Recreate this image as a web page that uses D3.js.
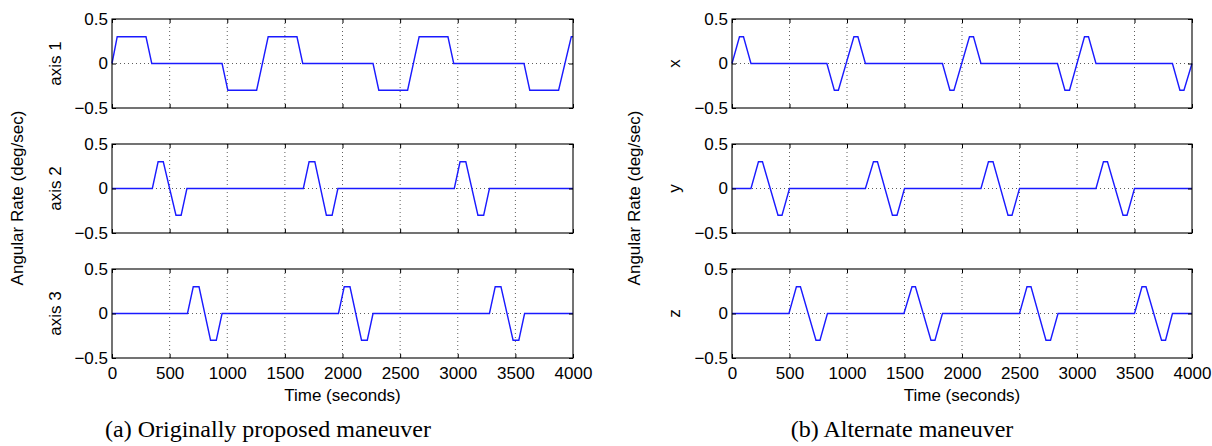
<!DOCTYPE html>
<html><head><meta charset="utf-8">
<script src="https://cdn.jsdelivr.net/npm/d3@7"></script>
<style>body{margin:0;background:#fff}svg{display:block}</style>
</head><body><svg id="c" width="1212" height="446"></svg>
<script>
// ---- data ----
const timeTicks = [0, 500, 1000, 1500, 2000, 2500, 3000, 3500, 4000];
const rateTicks = [-0.5, 0, 0.5];

// (a) originally proposed maneuver
const axis1T = [0, 45, 295, 345, 955, 1005, 1255, 1355, 1605, 1655, 2265, 2315, 2565, 2665, 2915, 2965, 3575, 3625, 3875, 3985, 4000];
const axis1V = [0, 0.3, 0.3, 0, 0, -0.3, -0.3, 0.3, 0.3, 0, 0, -0.3, -0.3, 0.3, 0.3, 0, 0, -0.3, -0.3, 0.3, 0.3];
const axis2T = [0, 350, 400, 445, 555, 600, 650, 1660, 1710, 1760, 1860, 1910, 1960, 2970, 3020, 3070, 3175, 3225, 3275, 4000];
const axis2V = [0, 0, 0.3, 0.3, -0.3, -0.3, 0, 0, 0.3, 0.3, -0.3, -0.3, 0, 0, 0.3, 0.3, -0.3, -0.3, 0, 0];
const axis3T = [0, 655, 705, 755, 855, 905, 955, 1965, 2015, 2065, 2165, 2215, 2265, 3275, 3325, 3375, 3480, 3530, 3580, 4000];
const axis3V = [0, 0, 0.3, 0.3, -0.3, -0.3, 0, 0, 0.3, 0.3, -0.3, -0.3, 0, 0, 0.3, 0.3, -0.3, -0.3, 0, 0];

// (b) alternate maneuver
const xT = [0, 65, 100, 165, 825, 890, 925, 1060, 1095, 1160, 1830, 1895, 1930, 2065, 2100, 2165, 2830, 2895, 2935, 3065, 3100, 3165, 3830, 3895, 3930, 4000];
const xV = [0, 0.3, 0.3, 0, 0, -0.3, -0.3, 0.3, 0.3, 0, 0, -0.3, -0.3, 0.3, 0.3, 0, 0, -0.3, -0.3, 0.3, 0.3, 0, 0, -0.3, -0.3, 0];
const yT = [0, 165, 230, 265, 400, 435, 500, 1160, 1230, 1265, 1395, 1435, 1500, 2165, 2230, 2270, 2400, 2435, 2500, 3165, 3230, 3265, 3400, 3435, 3500, 4000];
const yV = [0, 0, 0.3, 0.3, -0.3, -0.3, 0, 0, 0.3, 0.3, -0.3, -0.3, 0, 0, 0.3, 0.3, -0.3, -0.3, 0, 0, 0.3, 0.3, -0.3, -0.3, 0, 0];
const zT = [0, 495, 560, 595, 730, 765, 830, 1495, 1565, 1595, 1730, 1765, 1830, 2500, 2565, 2600, 2730, 2770, 2835, 3500, 3565, 3600, 3735, 3770, 3830, 4000];
const zV = [0, 0, 0.3, 0.3, -0.3, -0.3, 0, 0, 0.3, 0.3, -0.3, -0.3, 0, 0, 0.3, 0.3, -0.3, -0.3, 0, 0, 0.3, 0.3, -0.3, -0.3, 0, 0];

const labelsA = ["axis 1", "axis 2", "axis 3"];
const labelsB = ["x", "y", "z"];
const yTitle = "Angular Rate (deg/sec)";
const xTitle = "Time (seconds)";
const captionA = "(a) Originally proposed maneuver";
const captionB = "(b) Alternate maneuver";

// ---- drawing ----
const svg = d3.select("#c");
const sans = "'Liberation Sans', Arial, Helvetica, sans-serif";
const serif = "'Liberation Serif', 'Times New Roman', serif";
const fs = 17;
const rowTops = [19, 144, 269], rowH = 89;

const groups = [
  {x0: 112, x1: 573, labelX: 61, titleX: 22.5, labels: labelsA,
   series: [[axis1T, axis1V], [axis2T, axis2V], [axis3T, axis3V]],
   caption: captionA, capX: 268},
  {x0: 732, x1: 1192, labelX: 680, titleX: 639.5, labels: labelsB,
   series: [[xT, xV], [yT, yV], [zT, zV]],
   caption: captionB, capX: 902}
];

const fmtY = d => d === 0 ? "0" : d3.format(".1f")(d);

groups.forEach(g => {
  const x = d3.scaleLinear().domain([0, 4000]).range([g.x0, g.x1]);
  g.series.forEach((s, i) => {
    const top = rowTops[i];
    const y = d3.scaleLinear().domain([-0.5, 0.5]).range([top + rowH, top]);
    const p = svg.append("g");
    // grid
    p.selectAll("line.vg").data(timeTicks.slice(1, -1)).join("line")
      .attr("x1", d => x(d)).attr("x2", d => x(d))
      .attr("y1", top).attr("y2", top + rowH)
      .attr("stroke", "#333").attr("stroke-width", 0.8).attr("stroke-dasharray", "1,3");
    p.selectAll("line.hg").data([0]).join("line")
      .attr("x1", g.x0).attr("x2", g.x1)
      .attr("y1", d => y(d)).attr("y2", d => y(d))
      .attr("stroke", "#333").attr("stroke-width", 0.8).attr("stroke-dasharray", "1,3");
    // data line
    const pts = s[0].map((t, k) => [t, s[1][k]]);
    p.append("path").datum(pts)
      .attr("d", d3.line().x(d => x(d[0])).y(d => y(d[1])))
      .attr("fill", "none").attr("stroke", "#1a1aff").attr("stroke-width", 1.4);
    // axes (inward ticks)
    const left = p.append("g").attr("transform", `translate(${g.x0},0)`)
      .call(d3.axisLeft(y).tickValues(rateTicks).tickFormat(fmtY).tickSize(-4).tickPadding(4));
    const right = p.append("g").attr("transform", `translate(${g.x1},0)`)
      .call(d3.axisRight(y).tickValues(rateTicks).tickFormat("").tickSize(-4));
    const topAx = p.append("g").attr("transform", `translate(0,${top})`)
      .call(d3.axisTop(x).tickValues(timeTicks).tickFormat("").tickSize(-4));
    const bot = p.append("g").attr("transform", `translate(0,${top + rowH})`)
      .call(d3.axisBottom(x).tickValues(timeTicks)
        .tickFormat(i === 2 ? d3.format("d") : "").tickSize(-4).tickPadding(9));
    [left, right, topAx, bot].forEach(a => {
      a.select(".domain").remove();
      a.selectAll("line").attr("stroke", "#000");
      a.selectAll("text").attr("font-family", sans).attr("font-size", fs).attr("fill", "#000");
      a.attr("font-family", null).attr("font-size", null);
    });
    // border
    p.append("rect").attr("x", g.x0).attr("y", top)
      .attr("width", g.x1 - g.x0).attr("height", rowH)
      .attr("fill", "none").attr("stroke", "#000").attr("stroke-width", 1.1);
    // panel label
    p.append("text")
      .attr("transform", `translate(${g.labelX},${top + rowH / 2}) rotate(-90)`)
      .attr("text-anchor", "middle").attr("font-family", sans).attr("font-size", fs)
      .text(g.labels[i]);
  });
  // y title
  svg.append("text")
    .attr("transform", `translate(${g.titleX},198) rotate(-90)`)
    .attr("text-anchor", "middle").attr("font-family", sans).attr("font-size", fs)
    .text(yTitle);
  // x title
  svg.append("text")
    .attr("x", (g.x0 + g.x1) / 2).attr("y", 401)
    .attr("text-anchor", "middle").attr("font-family", sans).attr("font-size", fs)
    .text(xTitle);
  // caption
  svg.append("text")
    .attr("x", g.capX).attr("y", 437)
    .attr("text-anchor", "middle").attr("font-family", serif).attr("font-size", 24)
    .text(g.caption);
});
</script>
</body></html>
